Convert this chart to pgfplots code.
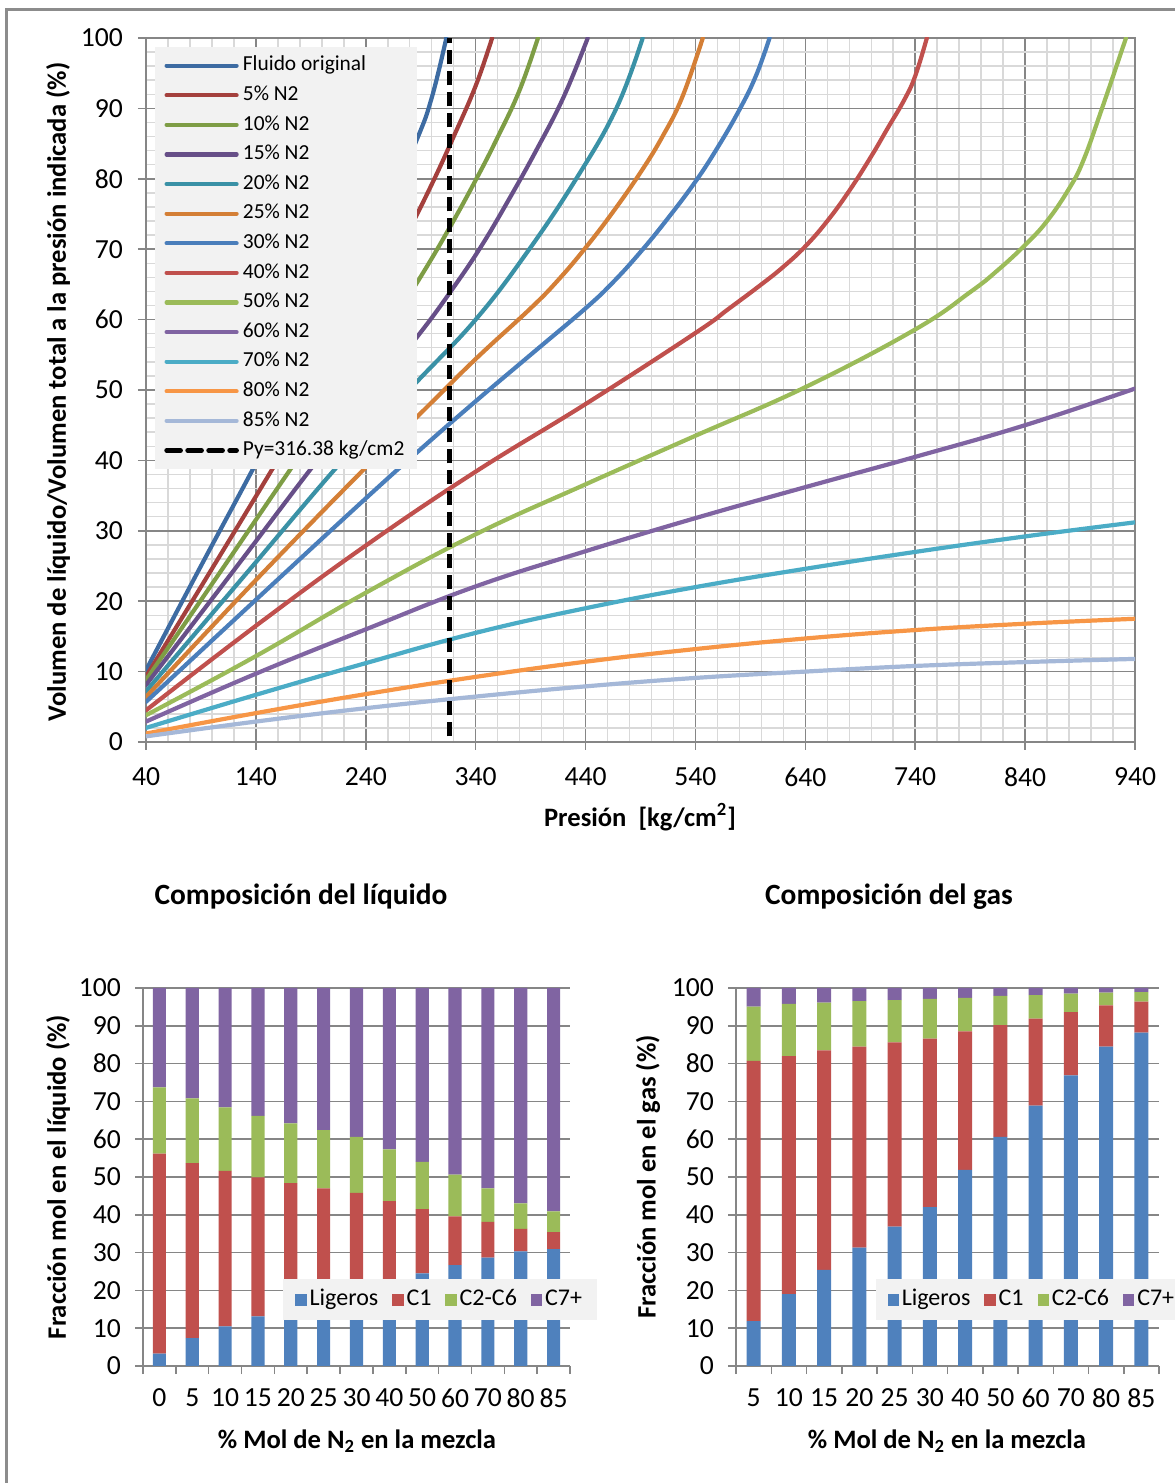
\documentclass[border=0pt]{standalone}
\usepackage{pgfplots}
\pgfplotsset{compat=1.18}
\usepackage{fontspec}
\setmainfont{Carlito}

\definecolor{majgrid}{HTML}{868686}
\definecolor{mingrid}{HTML}{D9D9D9}
\definecolor{leggray}{HTML}{F2F2F2}
\definecolor{framegray}{HTML}{8C8C8C}
\definecolor{cOrig}{HTML}{3D6BA2}
\definecolor{cN05}{HTML}{A4403D}
\definecolor{cN10}{HTML}{7E9D45}
\definecolor{cN15}{HTML}{674F88}
\definecolor{cN20}{HTML}{3A91A6}
\definecolor{cN25}{HTML}{D47F36}
\definecolor{cN30}{HTML}{4A7EBB}
\definecolor{cN40}{HTML}{C0504D}
\definecolor{cN50}{HTML}{9BBB59}
\definecolor{cN60}{HTML}{8064A2}
\definecolor{cN70}{HTML}{4BACC6}
\definecolor{cN80}{HTML}{F79646}
\definecolor{cN85}{HTML}{A5B8D8}
\definecolor{cLig}{HTML}{4F81BD}
\definecolor{cC1}{HTML}{C0504D}
\definecolor{cC26}{HTML}{9BBB59}
\definecolor{cC7}{HTML}{8064A2}

\pgfplotsset{
  sqleg/.style={legend image code/.code={\fill[##1] (0pt,-2.8pt) rectangle (5.6pt,2.8pt);}},
  curve/.style={line width=2.1pt, smooth, tension=0.7, line cap=round, line join=round},
  barchart/.style={
    anchor=south west, scale only axis, width=213.5pt, height=189pt,
    ybar stacked, bar width=0.4,
    ymin=0, ymax=100, ytick={0,10,...,100},
    axis lines*=left,
    axis line style={draw=majgrid, line width=0.75pt, -},
    ymajorgrids, major grid style={draw=majgrid, line width=0.75pt},
    tick align=outside, major tick length=4pt, minor tick length=4pt,
    tick style={draw=majgrid, line width=0.75pt},
    major x tick style={draw=none},
    ticklabel style={font=\fontsize{13.8}{15}\selectfont},
    yticklabel style={xshift=-3.5pt},
    xticklabel style={yshift=-4pt},
    /pgf/number format/assume math mode=true,
    legend columns=4,
    legend style={anchor=north west, fill=leggray, draw=none,
      font=\fontsize{12}{14}\selectfont, inner xsep=6pt, inner ysep=2.5pt,
      nodes={inner ysep=2pt, inner xsep=1.5pt, text height=8.5pt, text depth=3pt},
      /tikz/every even column/.append style={column sep=5.5pt}},
  },
}

\begin{document}
\begin{tikzpicture}
\useasboundingbox (0,0) rectangle (587pt,741.5pt);
\draw[framegray, line width=1.5pt] (3pt,-5pt) -- (3pt,736.9pt) -- (600pt,736.9pt);

% ---------------- top chart ----------------
\begin{axis}[
  at={(73pt,370.5pt)}, anchor=south west, scale only axis,
  width=494.5pt, height=352pt,
  xmin=40, xmax=940, ymin=0, ymax=100,
  xtick={40,140,...,940}, ytick={0,10,...,100},
  minor x tick num=4, minor y tick num=4,
  grid=both,
  major grid style={draw=majgrid, line width=0.75pt},
  minor grid style={draw=mingrid, line width=0.75pt},
  axis line style={draw=majgrid, line width=0.75pt},
  tick align=outside, xtick pos=bottom, ytick pos=left,
  major tick length=4pt, minor tick length=0pt,
  tick style={draw=majgrid, line width=0.75pt},
  ticklabel style={font=\fontsize{13.8}{15}\selectfont},
  yticklabel style={xshift=-4pt},
  xticklabel style={yshift=-5.5pt},
  /pgf/number format/assume math mode=true,
  legend style={at={(rel axis cs:0.009,0.988)}, anchor=north west,
    fill=leggray, draw=none, font=\fontsize{10.7}{12}\selectfont,
    inner xsep=4.5pt, inner ysep=2pt, cells={anchor=west},
    nodes={inner ysep=2.2pt, text height=7.8pt, text depth=2.6pt}},
  legend image code/.code={\draw[#1, line cap=round] (0pt,0pt) -- (35pt,0pt);},
]
\addplot[curve, cOrig] coordinates {(40,10.2) (90,25) (141.5,40) (200,57.5) (250,72.5) (285.5,85.2) (300,91.5) (313.3,100)};
\addlegendentry{Fluido original}
\addplot[curve, cN05] coordinates {(40,9.3) (100,24.6) (159.7,40) (220,55.8) (250,64.2) (275,71.4) (300,79.2) (320,86.0) (340,93.2) (355,100)};
\addlegendentry{5\% N2}
\addplot[curve, cN10] coordinates {(40,8.8) (110,24.7) (177,40) (240,54.2) (265,60.0) (290,66.1) (315,72.7) (340,79.8) (360,85.9) (380,92.6) (396.7,100)};
\addlegendentry{10\% N2}
\addplot[curve, cN15] coordinates {(40,8.1) (120,24.4) (196,40) (250,50.5) (290,58.2) (320,64.6) (345,70.4) (370,77.0) (395,84.0) (420,91.6) (442,100)};
\addlegendentry{15\% N2}
\addplot[curve, cN20] coordinates {(40,7.2) (130,23.7) (219,40) (285.5,51.0) (340,60.0) (387,69.6) (431.5,80) (468,90) (492,100)};
\addlegendentry{20\% N2}
\addplot[curve, cN25] coordinates {(40,6.4) (140,23.0) (240,39.0) (290,46.7) (340,54.4) (390,61.6) (415,65.6) (440,70.2) (465,75.3) (490,80.9) (510,86.0) (528,91.6) (546.7,100)};
\addlegendentry{25\% N2}
\addplot[curve, cN30] coordinates {(40,5.7) (140,20.2) (240,34.6) (290,41.6) (340,48.4) (390,55.0) (440,61.6) (465,65.3) (490,69.6) (515,74.4) (540,79.6) (560,84.4) (580,89.8) (595,94.6) (607.5,100)};
\addlegendentry{30\% N2}
\addplot[curve, cN40] coordinates {(40,4.5) (140,16.5) (240,27.9) (340,38.4) (440,48.0) (540,58.1) (570,61.5) (600,65.0) (620,67.5) (640,70.4) (660,74.0) (680,78.3) (700,83.2) (715,87.2) (730,91.2) (740,94.6) (750.6,100)};
\addlegendentry{40\% N2}
\addplot[curve, cN50] coordinates {(40,3.8) (140,12.2) (240,21.2) (340,29.5) (440,36.6) (540,43.5) (640,50.4) (740,58.6) (790,63.9) (815,67.0) (840,70.6) (860,74.0) (880,78.6) (893,82.6) (910,90) (931.8,100)};
\addlegendentry{50\% N2}
\addplot[curve, cN60] coordinates {(40,2.9) (140,9.7) (240,16.0) (340,22.1) (440,27.1) (540,31.8) (640,36.2) (740,40.5) (840,45.0) (940,50.2)};
\addlegendentry{60\% N2}
\addplot[curve, cN70] coordinates {(40,2.0) (140,6.7) (240,11.2) (340,15.5) (440,19.0) (540,22.0) (640,24.6) (740,27.0) (840,29.2) (940,31.2)};
\addlegendentry{70\% N2}
\addplot[curve, cN80] coordinates {(40,1.2) (140,4.1) (240,6.8) (340,9.25) (440,11.4) (540,13.2) (640,14.7) (740,15.9) (840,16.8) (940,17.5)};
\addlegendentry{80\% N2}
\addplot[curve, cN85] coordinates {(40,0.8) (140,2.9) (240,4.8) (340,6.45) (440,7.9) (540,9.1) (640,10.0) (740,10.8) (840,11.35) (940,11.8)};
\addlegendentry{85\% N2}
\addplot[black, line width=2.3pt, dash pattern=on 7pt off 3.5pt] coordinates {(316.38,0.8) (316.38,100)};
\addlegendentry{Py=316.38 kg/cm2}
\end{axis}

\node[rotate=90, font=\fontsize{13.3}{15}\selectfont\bfseries] at (29pt,545.5pt) {Volumen de líquido/Volumen total a la presión indicada (\%)};
\node[font=\fontsize{13.3}{15}\selectfont\bfseries] at (320pt,333pt) {Presión\ \ [kg/cm\textsuperscript{2}]};

% ---------------- bottom left ----------------
\node[font=\fontsize{14.7}{17}\selectfont\bfseries] at (150.5pt,293pt) {Composición del líquido};
\begin{axis}[barchart,
  at={(71.5pt,58.5pt)},
  xmin=-0.5, xmax=12.5,
  xtick={0,...,12}, xticklabels={0,5,10,15,20,25,30,40,50,60,70,80,85},
  minor xtick={-0.5,0.5,...,12.5},
  legend style={at={(rel axis cs:0.328,0.23)}},
]
\addplot[sqleg, fill=cLig, draw=none] coordinates {(0,3.3) (1,7.4) (2,10.5) (3,13.1) (4,15.5) (5,17.6) (6,19.5) (7,22.2) (8,24.5) (9,26.7) (10,28.7) (11,30.3) (12,30.9)};
\addlegendentry{Ligeros}
\addplot[sqleg, fill=cC1, draw=none] coordinates {(0,52.9) (1,46.3) (2,41.1) (3,36.8) (4,32.9) (5,29.4) (6,26.3) (7,21.4) (8,17.0) (9,12.9) (10,9.4) (11,6.0) (12,4.5)};
\addlegendentry{C1}
\addplot[sqleg, fill=cC26, draw=none] coordinates {(0,17.5) (1,17.1) (2,16.8) (3,16.3) (4,15.8) (5,15.4) (6,14.8) (7,13.7) (8,12.5) (9,11.0) (10,8.9) (11,6.7) (12,5.5)};
\addlegendentry{C2-C6}
\addplot[sqleg, fill=cC7, draw=none] coordinates {(0,26.3) (1,29.2) (2,31.6) (3,33.8) (4,35.8) (5,37.6) (6,39.4) (7,42.7) (8,46.0) (9,49.4) (10,53.0) (11,57.0) (12,59.1)};
\addlegendentry{C7+}
\end{axis}
\node[rotate=90, font=\fontsize{13.3}{15}\selectfont\bfseries] at (29pt,153pt) {Fracción mol en el líquido (\%)};
\node[font=\fontsize{13.3}{15}\selectfont\bfseries] at (178.5pt,21pt) {\% Mol de N\textsubscript{2} en la mezcla};

% ---------------- bottom right ----------------
\node[font=\fontsize{14.7}{17}\selectfont\bfseries] at (444.5pt,293pt) {Composición del gas};
\begin{axis}[barchart,
  at={(368pt,58.5pt)}, width=211.5pt,
  xmin=-0.5, xmax=11.5,
  xtick={0,...,11}, xticklabels={5,10,15,20,25,30,40,50,60,70,80,85},
  minor xtick={-0.5,0.5,...,11.5},
  legend style={at={(rel axis cs:0.329,0.23)}},
]
\addplot[sqleg, fill=cLig, draw=none] coordinates {(0,11.9) (1,19.0) (2,25.4) (3,31.3) (4,36.9) (5,42.0) (6,51.9) (7,60.6) (8,68.9) (9,76.9) (10,84.5) (11,88.2)};
\addlegendentry{Ligeros}
\addplot[sqleg, fill=cC1, draw=none] coordinates {(0,68.8) (1,63.0) (2,58.1) (3,53.2) (4,48.7) (5,44.6) (6,36.6) (7,29.6) (8,23.0) (9,16.7) (10,10.9) (11,8.2)};
\addlegendentry{C1}
\addplot[sqleg, fill=cC26, draw=none] coordinates {(0,14.4) (1,13.8) (2,12.6) (3,12.0) (4,11.2) (5,10.5) (6,8.9) (7,7.7) (8,6.2) (9,4.9) (10,3.4) (11,2.5)};
\addlegendentry{C2-C6}
\addplot[sqleg, fill=cC7, draw=none] coordinates {(0,4.9) (1,4.2) (2,3.9) (3,3.5) (4,3.2) (5,2.9) (6,2.6) (7,2.1) (8,1.9) (9,1.5) (10,1.2) (11,1.1)};
\addlegendentry{C7+}
\end{axis}
\node[rotate=90, font=\fontsize{13.3}{15}\selectfont\bfseries] at (324pt,153pt) {Fracción mol en el gas (\%)};
\node[font=\fontsize{13.3}{15}\selectfont\bfseries] at (473.5pt,21pt) {\% Mol de N\textsubscript{2} en la mezcla};
\end{tikzpicture}
\end{document}
